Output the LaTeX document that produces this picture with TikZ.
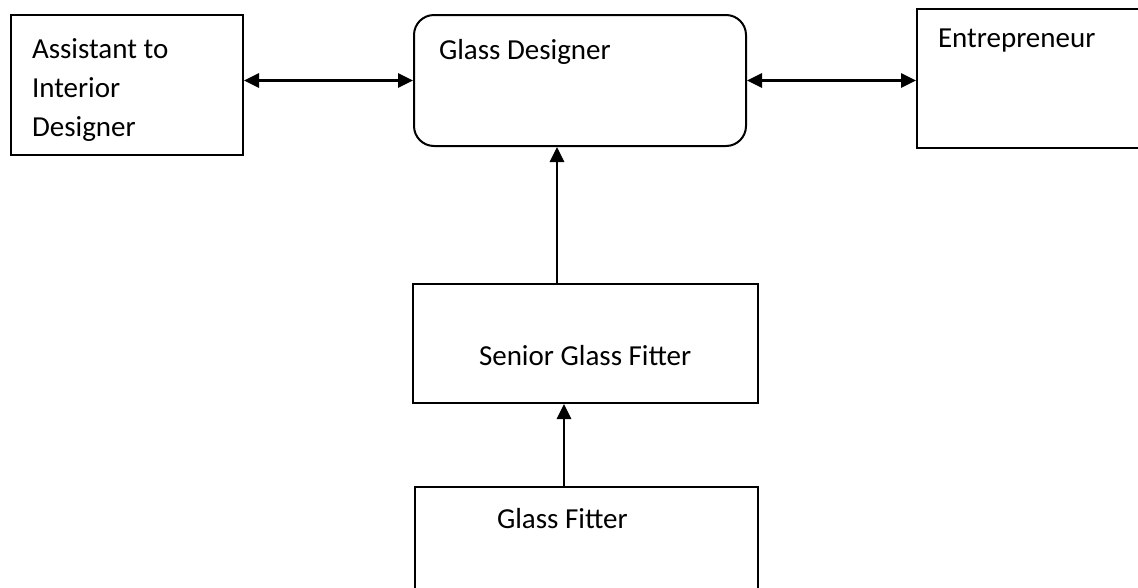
\documentclass[tikz,border=0pt]{standalone}
\usepackage{fontspec}
\setmainfont{Carlito}
\usetikzlibrary{arrows.meta}

\begin{document}
\begin{tikzpicture}[x=1pt, y=-1pt,
        box/.style={draw, line width=2pt, anchor=north west, inner ysep=0pt, align=flush left,
                    font=\fontsize{29pt}{39pt}\selectfont},
        link/.style={line width=2.8pt, {Triangle[length=15pt,width=14pt]}-{Triangle[length=15pt,width=14pt]}},
        up/.style={line width=2.8pt, -{Triangle[length=15pt,width=14pt]}}]
                \useasboundingbox (0,0) rectangle (1138,587);
                \clip (0,0) rectangle (1138,587);

                \node[box, minimum width=232pt, inner xsep=21pt, text width=190pt,
                      text height=43pt, text depth=97pt] (asst) at (10,14)
                      {Assistant to\\Interior\\Designer};
                \node[box, rounded corners=20pt, minimum width=332pt, inner xsep=25pt, text width=282pt,
                      text height=44pt, text depth=87pt] (gd) at (413,14) {Glass Designer};
                \node[box, minimum width=260pt, inner xsep=21pt, text width=218pt,
                      text height=38pt, text depth=101pt] (ent) at (916,8) {Entrepreneur};
                \node[box, minimum width=345pt, inner xsep=66pt, text width=213pt,
                      text height=81pt, text depth=38pt] (sgf) at (412,283) {Senior Glass Fitter};
                \node[box, minimum width=343pt, inner xsep=82pt, text width=179pt,
                      text height=41pt, text depth=110pt] (gf) at (414,486) {Glass Fitter};

                \coordinate (sgfup) at ([xshift=-28.5pt]sgf.north);
                \coordinate (gfup) at ([xshift=-22.5pt]gf.north);

                \draw[link] (asst.east |- gd.west) -- (gd.west);
                \draw[link] (gd.east) -- (ent.west |- gd.east);
                \draw[up] (sgfup) -- (sgfup |- gd.south);
                \draw[up] (gfup) -- (gfup |- sgf.south);
            \end{tikzpicture}
\end{document}
